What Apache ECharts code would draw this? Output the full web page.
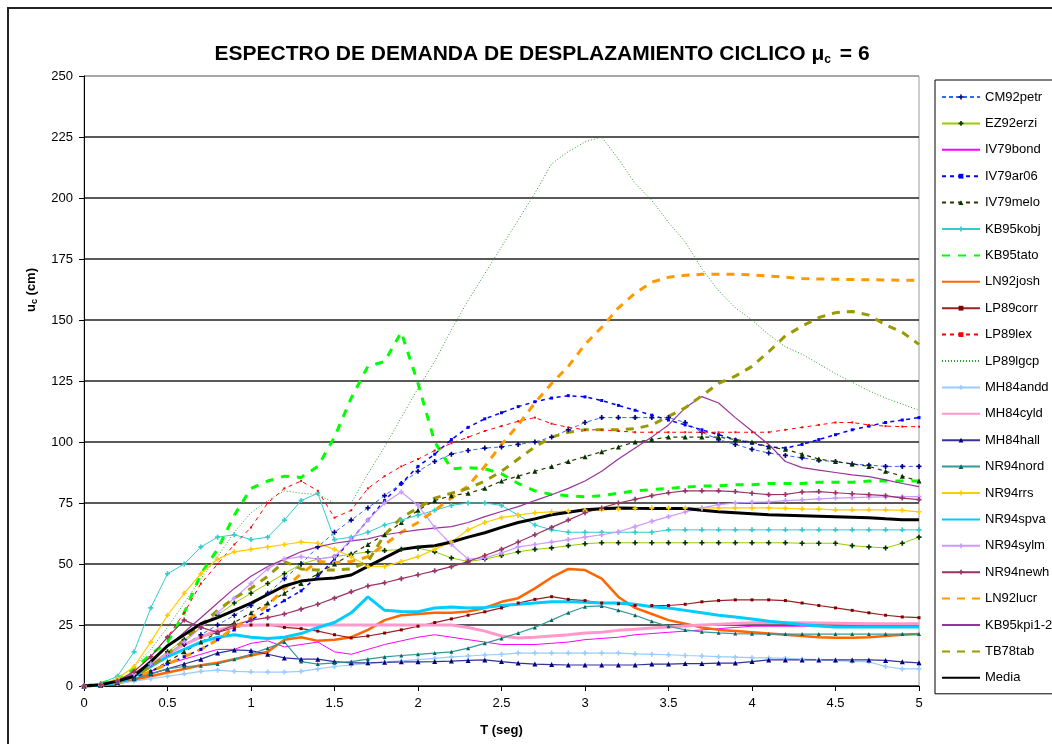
<!DOCTYPE html>
<html>
<head>
<meta charset="utf-8">
<script src="https://cdn.jsdelivr.net/npm/echarts@6/dist/echarts.min.js"></script>
<style>
  html, body { margin: 0; padding: 0; background: #fff; }
  #chart { width: 1052px; height: 744px; }
</style>
</head>
<body>
<div id="chart"></div>
<script>
// periodo T (seg), muestreo cada 0.1 s
var T = [0, 0.1, 0.2, 0.3, 0.4, 0.5, 0.6, 0.7, 0.8, 0.9,
         1, 1.1, 1.2, 1.3, 1.4, 1.5, 1.6, 1.7, 1.8, 1.9,
         2, 2.1, 2.2, 2.3, 2.4, 2.5, 2.6, 2.7, 2.8, 2.9,
         3, 3.1, 3.2, 3.3, 3.4, 3.5, 3.6, 3.7, 3.8, 3.9,
         4, 4.1, 4.2, 4.3, 4.4, 4.5, 4.6, 4.7, 4.8, 4.9, 5];

var yTicks = [0, 25, 50, 75, 100, 125, 150, 175, 200, 225, 250];

// desplazamiento uc (cm) de cada registro
var CM92petr = [0, 0.5, 2, 5, 9, 13, 17, 21, 25, 29,
                33, 38, 44, 50, 57, 63, 68, 73, 78, 83,
                88, 92, 95, 96.5, 97.5, 98, 99, 100, 102, 105,
                108, 110, 110, 110, 110, 110, 108, 104, 101, 99,
                97, 95.5, 94.5, 93.5, 92.5, 92, 91, 90.5, 90, 90, 90];
var EZ92erzi = [0, 0.5, 2, 5, 9, 14, 19, 24, 29, 34,
                38, 42, 46, 50, 52, 53, 54, 55, 55.5, 56,
                56.5, 55, 52.5, 51, 52, 53.5, 55, 56, 56.6, 57.5,
                58.3, 58.7, 58.7, 58.7, 58.7, 58.7, 58.7, 58.7, 58.7, 58.7,
                58.7, 58.7, 58.7, 58.5, 58.5, 58.5, 57.5, 57, 56.6, 58.5, 61];
var IV79bond = [0, 0.5, 2, 4, 6, 9, 11, 13, 15, 15,
                17.5, 18.5, 16, 17, 18, 14, 13, 15, 17, 18.5,
                20, 21, 20, 19, 18, 17, 17, 17, 17.5, 18,
                19, 19.5, 20, 21, 21.5, 22, 22.5, 23, 23.5, 24,
                24.5, 24.5, 24.5, 24.5, 24.5, 24.5, 24.5, 24.5, 24.5, 24.5, 24.5];
var IV79ar06 = [0, 0.3, 1.5, 3.5, 6, 9, 12, 15, 19, 23,
                27, 31, 35, 39, 45, 52, 60, 68, 76, 83,
                90, 95, 101, 106, 109.5, 112, 114.5, 116.5, 118, 119,
                118.5, 117, 115, 113, 111, 109, 107, 105, 103, 101,
                99.5, 98, 97.5, 99, 101, 103, 105, 106.5, 108, 109, 110];
var IV79melo = [0, 0.4, 1.5, 3.5, 6, 10, 14, 18, 22, 26,
                30, 34, 38, 42, 46, 50, 54, 58, 62, 67,
                72, 76, 78, 79, 81, 84, 86, 88, 90, 92,
                94, 96, 98, 100, 101, 102, 102, 102, 102, 101,
                100, 98, 97, 95, 93, 92, 91, 90, 88, 86, 84];
var KB95kobj = [0, 1, 4, 14, 32, 46, 50, 57, 61, 62,
                60, 61, 68, 76, 79, 60, 61, 63, 66, 68,
                70, 72, 74, 75, 75, 74, 70, 66, 64, 63,
                63, 63, 63, 63, 63, 64, 64, 64, 64, 64,
                64, 64, 64, 64, 64, 64, 64, 64, 64, 64, 64];
var KB95tato = [0, 1, 3, 7, 13, 18, 30, 46, 56, 70,
                81, 84, 86, 85.5, 90, 102, 118, 131, 133, 145,
                124, 100, 89, 89.5, 89, 87, 83, 80, 78.5, 78,
                77.5, 78, 79, 80, 80.5, 81, 81.5, 82, 82, 82.5,
                82.5, 83, 83, 83, 83.5, 83.5, 83.5, 84, 84, 84, 84];
var LN92josh = [0, 0.3, 1, 2.5, 4, 5.5, 7, 8.5, 9.5, 11,
                12.5, 14, 19, 20, 18.5, 19, 20, 23, 27, 29,
                29.5, 30, 30, 30.5, 32, 34.5, 36, 40, 44.5, 48,
                47.5, 44, 36.5, 32, 29.5, 27, 25.5, 24, 23, 22.5,
                22, 21.5, 21, 20.5, 20, 19.8, 19.8, 20, 20.5, 21, 21.3];
var LP89corr = [0, 0.5, 2, 5, 9, 13, 17, 20, 22, 24,
                25, 25, 24, 23.5, 22.5, 21, 19.7, 20.5, 21.7, 23,
                24.5, 26, 27.5, 29, 30.4, 32, 34, 35.5, 36.6, 35.5,
                35, 34, 33.7, 33, 33, 33, 33.5, 34.5, 35, 35.3,
                35.3, 35.3, 35, 34, 33, 32, 31, 30, 29, 28.3, 28];
var LP89lex = [0, 0.5, 2, 6, 12, 20, 30, 42, 50, 58,
               65, 75, 81, 84, 80, 69, 72, 81, 86, 90,
               93, 96.5, 99.5, 102, 104.5, 106.5, 108.5, 110, 107.5, 106,
               105, 105, 104.5, 104, 104, 104, 104, 104, 104, 104,
               104, 104, 105, 106, 107, 108, 108, 107, 106.5, 106.3, 106.3];
var LP89lgcp = [0, 0.5, 3, 8, 15, 24, 34, 44, 53, 63,
                71, 76, 80, 79, 78.5, 75, 75, 87, 98, 110,
                122, 133, 146, 158, 169, 180, 191, 202, 214, 219,
                223, 225, 216, 206, 199, 190, 182, 171, 162, 155,
                150, 144, 139, 136, 132, 128, 124.5, 121, 118, 115.5, 113];
var MH84andd = [0, 0.3, 1, 2, 3, 4, 5, 6, 6.5, 6,
                5.8, 5.7, 5.7, 6, 7, 8, 8.6, 9.3, 9.9, 10.3,
                10.8, 11.3, 11.9, 12.3, 12.7, 13, 13.5, 13.5, 13.5, 13.5,
                13.5, 13.5, 13.5, 13.2, 13, 12.8, 12.5, 12.3, 12, 11.8,
                11.6, 11.5, 11.3, 11, 10.7, 10.4, 10.1, 9.9, 8, 7, 7];
var MH84cyld = [0, 0.5, 2, 5, 9, 13, 17, 20, 23, 24.5,
                25, 25, 25, 25, 25, 25, 25, 25, 25, 25,
                25, 25, 25, 24, 22.5, 20.5, 19.7, 20, 20.5, 21,
                21.7, 22, 22.8, 23.3, 23.8, 24.2, 24.6, 25, 25.3, 25.6,
                25.9, 25.9, 25.9, 25.9, 25.8, 25.7, 25.6, 25.5, 25.5, 25.5, 25.5];
var MH84hall = [0, 0.3, 1.5, 3, 5, 7, 9, 11, 13.5, 14.8,
                14.5, 13, 11.5, 11, 11, 10, 9.5, 9.5, 9.7, 9.9,
                9.9, 10, 10.2, 10.5, 10.7, 10, 9.4, 9, 8.8, 8.6,
                8.6, 8.6, 8.6, 8.6, 9, 9, 9.2, 9.2, 9.4, 9.4,
                10, 10.7, 10.7, 10.7, 10.7, 10.7, 10.7, 10.7, 10.5, 9.9, 9.5];
var NR94nord = [0, 0.3, 1.5, 3, 5, 7, 8, 8.3, 9, 11,
                13, 15.5, 18, 10, 9, 9.5, 10, 11, 11.9, 12.5,
                13, 13.5, 14, 15.5, 17.5, 19.5, 21.7, 24, 27, 30,
                32.5, 32.8, 31, 29, 26.5, 24.5, 23, 22.2, 21.8, 21.5,
                21.4, 21.3, 21.3, 21.3, 21.3, 21.3, 21.3, 21.3, 21.3, 21.3, 21.3];
var NR94rrs = [0, 0.5, 3, 8, 18, 29, 38, 46, 52, 55,
               56, 57, 58, 59, 58.5, 56, 53, 49, 49, 51,
               53, 56, 59, 64, 67, 69, 70, 71, 71.4, 71.7,
               72, 72.2, 72.5, 72.8, 73, 73, 73, 73, 73, 73,
               73, 73, 72.8, 72.6, 72.5, 72.2, 72.2, 72.2, 72.2, 72, 71.4];
var NR94spva = [0, 0.3, 1.5, 4, 8, 12, 15, 18, 20, 21,
                20, 19.5, 20, 21.5, 24, 26, 30, 36.5, 31, 30.5,
                30.4, 32, 32.4, 32, 32.2, 33, 33.5, 34, 34.5, 34.5,
                34.3, 34, 34, 33.5, 32.5, 32, 31, 30, 29, 28.3,
                27.5, 26.5, 25.9, 25.2, 24.6, 24.2, 24.2, 24.2, 24.2, 24.2, 24.2];
var NR94sylm = [0, 0.5, 2, 5, 9, 13, 18, 24, 30, 36,
                42, 48, 52, 53, 52, 53, 60, 68, 75, 79.5,
                74, 65, 58, 52, 52.5, 54.5, 57, 58, 59, 60,
                61, 62, 63.2, 65.3, 67.5, 69.4, 71.3, 73, 74.3, 75,
                75.3, 75.5, 76, 76.3, 76.7, 77, 77.2, 77.4, 77.5, 77.6, 77.6];
var NR94newh = [0, 0.5, 2, 6, 12, 20, 27, 24, 22, 25,
                27, 28, 29.5, 31.5, 33.5, 36, 38.6, 41, 42.3, 44,
                45.6, 47.2, 48.9, 51, 53.5, 56, 59, 62, 65, 68,
                71, 73, 75, 76.5, 78, 79.2, 80, 80, 80, 79.7,
                79, 78.4, 78.5, 79.5, 79.7, 79.2, 78.8, 78.4, 78, 77, 76.4];
var LN92lucr = [0, 0.3, 1.5, 3.5, 6, 9, 12, 15, 19, 24,
                28, 33, 40, 46, 51, 50.5, 51, 53, 58, 63,
                67, 72, 77, 82, 90, 99, 107, 116, 124, 131,
                140, 147, 155, 161, 165.5, 167.5, 168.3, 168.7, 168.7, 168.7,
                168.5, 168, 167.5, 167, 166.8, 166.7, 166.6, 166.5, 166.4, 166.3, 166.3];
var KB95kpi12 = [0, 0.5, 2, 5, 10, 16, 22, 28, 34, 40,
                 45, 49, 52, 55, 57, 58.5, 59.5, 60.3, 62, 63,
                 64, 64.7, 65.3, 67, 69.4, 71.5, 73.5, 76, 78.4, 81,
                 84, 88, 93, 97.5, 102, 107, 114, 118.6, 116, 110,
                 104.5, 99, 92, 89.5, 88.5, 87.5, 86.5, 85.8, 84.5, 83, 81.7];
var TB78tab = [0, 0.3, 1.5, 4, 8, 13, 19, 25, 31, 36,
               40, 45, 51, 48, 47.5, 47.5, 48, 51, 62, 69,
               73, 77, 79, 81, 84, 88, 93, 98, 102, 104,
               105, 105, 105, 105.5, 107, 110.5, 114, 119, 124, 127,
               131, 137, 143.5, 147.5, 151, 153, 153.5, 152, 148, 145, 140];
var Media = [0, 0.5, 2, 4, 10, 16.5, 21, 25.5, 28, 31,
             34, 37.5, 41, 43, 43.8, 44.3, 45.5, 49, 52.5, 56,
             57, 57.5, 59, 61, 62.8, 65, 67, 68.5, 70.2, 71.2,
             72.2, 72.6, 73, 72.8, 72.7, 72.7, 72.7, 72, 71.4, 71,
             70.6, 70.2, 70, 69.8, 69.6, 69.4, 69.2, 69, 68.5, 68.1, 68.1];

var FONT = 'Liberation Sans, Arial, sans-serif';
var PLUS = 'path://M2,0H4V2H6V4H4V6H2V4H0V2H2Z';

function pairs(vals) {
    return vals.map(function (v, i) { return [T[i], v]; });
}

// nombre, datos, color de linea, ancho, tipo, simbolo, color simbolo, tamano
function serie(name, vals, color, width, type, symbol, symColor, symSize) {
    return {
        name: name,
        type: 'line',
        data: pairs(vals),
        smooth: false,
        symbol: symbol || 'none',
        symbolSize: symSize || 5,
        showSymbol: !!symbol,
        lineStyle: { color: color, width: width, type: type || 'solid' },
        itemStyle: { color: symColor || color },
        emphasis: { disabled: true }
    };
}

var series = [
    serie('CM92petr', CM92petr, '#3366ff', 1, [4, 3], PLUS, '#000080', 5),
    serie('EZ92erzi', EZ92erzi, '#99cc00', 1, 'solid', PLUS, '#003300', 5),
    serie('IV79bond', IV79bond, '#ff00ff', 1),
    serie('IV79ar06', IV79ar06, '#0000ff', 1.5, [4, 4], 'rect', '#0000ff', 3),
    serie('IV79melo', IV79melo, '#333300', 1.2, [4, 4], 'triangle', '#003300', 5),
    serie('KB95kobj', KB95kobj, '#33cccc', 1, 'solid', PLUS, '#33cccc', 5),
    serie('KB95tato', KB95tato, '#00ff00', 3, [8, 8]),
    serie('LN92josh', LN92josh, '#ff6600', 2.5),
    serie('LP89corr', LP89corr, '#992222', 1.2, 'solid', 'rect', '#800000', 3),
    serie('LP89lex', LP89lex, '#ff0000', 1, [4, 4], 'rect', '#ff0000', 2),
    serie('LP89lgcp', LP89lgcp, '#339933', 1, [1, 2]),
    serie('MH84andd', MH84andd, '#99ccff', 1.2, 'solid', PLUS, '#99ccff', 5),
    serie('MH84cyld', MH84cyld, '#ff99cc', 3),
    serie('MH84hall', MH84hall, '#333399', 1.2, 'solid', 'triangle', '#000080', 5),
    serie('NR94nord', NR94nord, '#339999', 1.2, 'solid', 'triangle', '#006666', 4),
    serie('NR94rrs', NR94rrs, '#ffcc00', 1.2, 'solid', PLUS, '#ffcc00', 5),
    serie('NR94spva', NR94spva, '#00ccff', 3),
    serie('NR94sylm', NR94sylm, '#cc99ff', 1.2, 'solid', PLUS, '#cc99ff', 5),
    serie('NR94newh', NR94newh, '#993366', 1.2, 'solid', PLUS, '#993366', 5),
    serie('LN92lucr', LN92lucr, '#ff9900', 3, [8, 7]),
    serie('KB95kpi1-2', KB95kpi12, '#993399', 1.2),
    serie('TB78tab', TB78tab, '#999900', 3, [8, 7]),
    serie('Media', Media, '#000000', 3)
];

// en la leyenda, ocultar el simbolo de las series sin marcador
var legendData = series.map(function (s) {
    var d = { name: s.name };
    if (!s.showSymbol) d.itemStyle = { opacity: 0 };
    return d;
});

var splitColors = yTicks.map(function (v) { return v === 250 ? '#9a9a9a' : '#222'; });

var chart = echarts.init(document.getElementById('chart'), null, { renderer: 'canvas' });

chart.setOption({
    animation: false,
    backgroundColor: '#fff',
    textStyle: { fontFamily: FONT },
    title: {
        text: 'ESPECTRO DE DEMANDA DE DESPLAZAMIENTO CICLICO {mu|μ}{sub|c} = 6',
        left: 537,
        textAlign: 'center',
        top: 38,
        textStyle: {
            fontFamily: FONT,
            fontSize: 21,
            fontWeight: 'bold',
            color: '#000',
            rich: {
                mu: { fontFamily: FONT, fontSize: 21, fontWeight: 'bold', color: '#000' },
                sub: { fontFamily: FONT, fontSize: 12, fontWeight: 'bold', color: '#000', padding: [11, 3, 0, 0] }
            }
        }
    },
    legend: {
        orient: 'vertical',
        left: 935,
        top: 80,
        padding: [10, 40, 9, 6],
        itemWidth: 38,
        itemHeight: 6,
        itemGap: 12.4,
        borderColor: '#000',
        borderWidth: 1,
        backgroundColor: '#fff',
        data: legendData,
        textStyle: { fontFamily: FONT, fontSize: 13, color: '#000', lineHeight: 14 }
    },
    grid: {
        left: 84,
        right: 133,
        top: 76,
        bottom: 58,
        show: true,
        borderColor: '#9a9a9a',
        borderWidth: 1,
        backgroundColor: '#fff'
    },
    xAxis: {
        type: 'value',
        min: 0,
        max: 5,
        interval: 0.5,
        name: 'T (seg)',
        nameLocation: 'middle',
        nameGap: 38,
        nameTextStyle: { fontFamily: FONT, fontSize: 13, fontWeight: 'bold', color: '#000' },
        axisLine: { lineStyle: { color: '#000', width: 1 } },
        axisTick: { show: true, length: 5, lineStyle: { color: '#000' } },
        axisLabel: { color: '#000', fontSize: 13, margin: 11, fontFamily: FONT },
        splitLine: { show: false }
    },
    yAxis: {
        type: 'value',
        min: 0,
        max: 250,
        interval: 25,
        axisLine: { show: true, lineStyle: { color: '#000', width: 1 } },
        axisTick: { show: true, length: 5, lineStyle: { color: '#000' } },
        axisLabel: { color: '#000', fontSize: 13, margin: 11, fontFamily: FONT },
        splitLine: { show: true, lineStyle: { color: splitColors, width: 1.5 } }
    },
    graphic: [
        {
            type: 'rect',
            shape: { x: 8, y: 8, width: 1200, height: 900 },
            style: { fill: 'none', stroke: '#222', lineWidth: 2 },
            silent: true,
            z: 100
        },
        {
            type: 'text',
            x: 24,
            y: 312,
            rotation: Math.PI / 2,
            style: {
                text: '{b|u}{s|c}{b| (cm)}',
                fill: '#000',
                rich: {
                    b: { fontFamily: FONT, fontSize: 13, fontWeight: 'bold', fill: '#000' },
                    s: { fontFamily: FONT, fontSize: 9, fontWeight: 'bold', fill: '#000', padding: [6, 0, 0, 0] }
                }
            }
        }
    ],
    series: series
});
</script>
</body>
</html>
